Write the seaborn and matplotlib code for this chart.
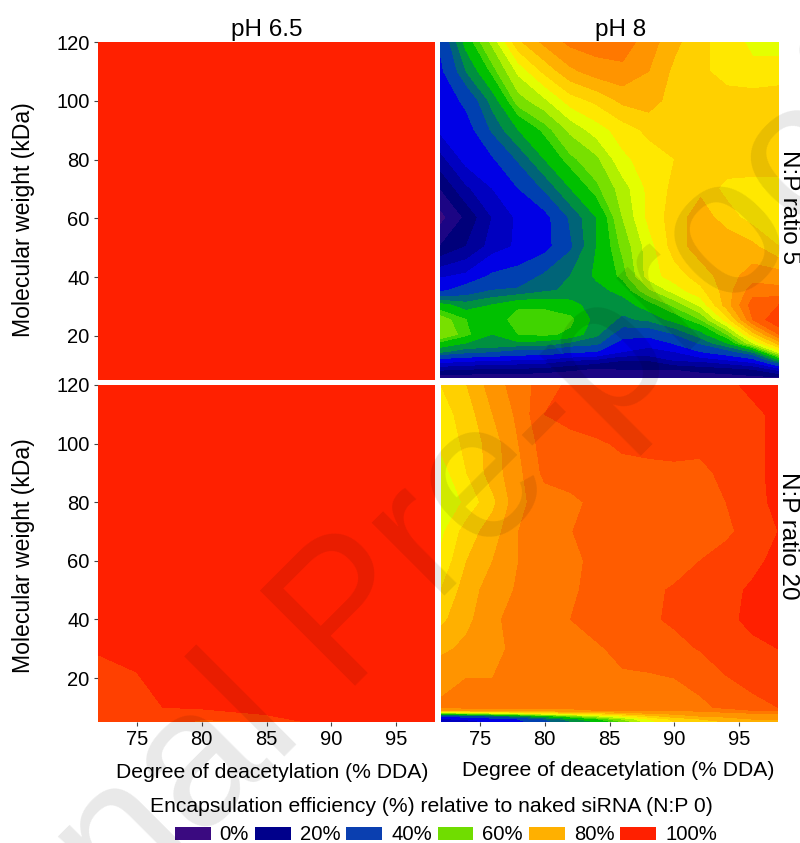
import numpy as np
import seaborn as sns
import matplotlib.pyplot as plt
from matplotlib.patches import Patch

# Contour bands, levels in % encapsulation
LEVELS = [0, 5, 10, 15, 20, 25, 32, 40, 45, 50, 55, 58, 62, 66, 70, 74, 78, 82, 86, 90, 94, 98, 105]
BAND_COLORS = ["#3a0a80", "#1c0584", "#00007a", "#00009a", "#0000c0", "#0000e6", "#0040b0",
               "#006478", "#009040", "#00c000", "#40d400", "#78e000", "#b0f000", "#e4ff00",
               "#ffe800", "#ffd000", "#ffb000", "#ff9400", "#ff7800", "#ff5c00", "#ff4000", "#ff2000"]

LEGEND_LABELS = ["0%", "20%", "40%", "60%", "80%", "100%"]
LEGEND_COLORS = ["#3a0a80", "#00008b", "#0a3fb0", "#70dd00", "#ffb000", "#ff2000"]

DDA = [72, 74, 76, 78, 80, 82, 84, 86, 88, 90, 92, 94, 96, 98]

# pH 8, N:P 5
MW_TR = [120, 110, 100, 90, 80, 70, 60, 50, 40, 35, 30, 25, 20, 17, 14, 11, 8, 5]
EE_TR = [
    [33, 52, 63, 77, 83, 87, 88, 88, 84, 79, 75, 72, 69, 68],
    [30, 45, 56, 67, 75, 81, 84, 85, 82, 77, 75, 72, 71, 72],
    [26, 34, 47, 60, 65, 72, 75, 79, 80, 76, 76, 76, 76, 76],
    [26, 28, 41, 50, 56, 63, 68, 72, 75, 77, 77, 77, 77, 77],
    [18, 27, 31, 41, 50, 57, 61, 69, 72, 74, 77, 77, 77, 77],
    [10, 19, 25, 32, 41, 50, 57, 64, 71, 75, 77, 72.5, 72, 72],
    [3, 11, 20, 26, 29, 41, 50, 62, 71, 76, 80, 76, 72, 71],
    [10, 15, 22, 26, 29, 39, 50, 59, 68, 76, 80, 81, 79, 74],
    [24, 26, 33, 35, 41, 45, 51, 56, 68, 72, 76, 80, 84, 84],
    [30, 36, 40, 41, 44, 46, 48, 52, 61, 68, 73, 80, 88, 87],
    [52, 47, 50, 54, 54, 52, 47, 47, 53, 59, 67, 80, 92, 94],
    [60, 55, 52, 57, 57, 56, 48, 44, 46, 52, 58, 72, 90, 98],
    [62, 56, 50, 55, 56, 54, 46, 36, 35, 40, 48, 58, 76, 90],
    [54, 50, 50, 49, 48, 44, 42, 28, 26, 33, 41, 50, 66, 80],
    [46, 42, 40, 37, 37, 33, 32, 25, 24, 25, 32, 37, 46, 68],
    [28, 26, 25, 24, 23, 20, 18, 15, 15, 20, 21, 24, 28, 48],
    [16, 15, 14, 14, 13, 11, 9, 10, 10, 10, 12, 13, 15, 22],
    [6, 6, 6, 6, 5, 5, 5, 6, 6, 6, 6, 7, 8, 8],
]

# pH 8, N:P 20
MW_BR = [120, 110, 100, 90, 80, 70, 60, 50, 40, 30, 20, 10, 9, 8, 7, 6, 5]
EE_BR = [
    [74, 78, 84, 88, 92, 95, 96, 96, 96, 96, 96, 97, 99, 99],
    [72, 76, 82, 87, 94, 95, 96, 96, 96, 96, 96, 96, 97, 99],
    [71, 75, 80, 86, 92, 93, 93.5, 94.5, 95, 95.5, 95, 96, 97, 99],
    [68, 74, 80, 85, 91, 92, 92.5, 93, 93, 93, 93, 95, 97, 99],
    [66, 71, 77, 85, 88, 89, 91, 92, 92, 92, 92.5, 94, 96.5, 99],
    [69, 76, 80, 86, 87.5, 89.9, 91, 92, 92, 92, 92, 93, 96, 98],
    [71, 78, 82, 86, 88, 89, 91, 92, 92, 92, 94, 96, 97, 99],
    [74, 80, 84, 86.5, 88, 89.5, 91, 92, 93, 94.5, 95.5, 97, 98.5, 99],
    [77, 81, 85, 88, 88.5, 90, 91.5, 92.5, 93.5, 94.5, 95.5, 97.5, 98.5, 99],
    [81, 83, 85, 87, 88, 88.5, 89.5, 91, 92, 93, 94.2, 96, 97.5, 98],
    [85, 86, 86, 87, 87.5, 87.5, 88, 89.5, 89.5, 90, 91.5, 93.8, 95, 97],
    [86.5, 87, 87, 87, 87, 87, 87, 87, 87.5, 88, 89, 91, 93, 94],
    [82, 83, 84, 84, 85, 85, 86, 86, 86, 86, 87, 88, 90, 90],
    [58, 62, 65, 68, 72, 74, 76, 80, 82, 83, 84, 85, 86, 86],
    [32, 36, 40, 46, 52, 58, 65, 70, 76, 80, 82, 83, 84, 84],
    [24, 26, 28, 32, 40, 48, 54, 62, 70, 75, 78, 80, 82, 82],
    [20, 22, 26, 30, 38, 44, 50, 58, 68, 74, 76, 78, 80, 82],
]

# pH 6.5 panels are nearly flat, so a coarse grid is enough
DDA_L = [72, 75, 77, 80, 85, 88, 98]
MW_L = [120, 28, 22, 10, 7.5, 5]
EE_TL = [
    [100, 100, 100, 100, 100, 100, 100],
    [100, 100, 100, 100, 100, 100, 100],
    [100, 100, 100, 100, 100, 100, 100],
    [100, 100, 100, 100, 100, 100, 100],
    [100, 100, 100, 100, 100, 100, 100],
    [100, 100, 100, 100, 100, 100, 100],
]
EE_BL = [
    [100, 100, 100, 100, 100, 100, 100],
    [98, 99, 100, 100, 100, 100, 100],
    [96.5, 98, 99, 100, 100, 100, 100],
    [96, 96.5, 98, 98.5, 99, 100, 100],
    [96, 96, 96, 96, 98, 99, 100],
    [96, 96, 96, 93, 94, 98, 100],
]

sns.set_theme(style="ticks")
plt.rcParams["font.family"] = ["Liberation Sans", "DejaVu Sans"]
palette = sns.color_palette(BAND_COLORS)

W, H = 800, 843
fig = plt.figure(figsize=(W / 100, H / 100), dpi=100, facecolor="white")


def panel(x0, y0, x1, y1):
    return fig.add_axes([x0 / W, 1 - y1 / H, (x1 - x0) / W, (y1 - y0) / H])


def label(x, y, text, **kwargs):
    fig.text(x / W, 1 - y / H, text, ha="center", va="center", color="black", **kwargs)


ax_tl = panel(98, 42, 435, 380)
ax_tr = panel(440, 42, 779, 378)
ax_bl = panel(98, 385, 435, 722)
ax_br = panel(441, 385, 778, 722)

panels = [
    (ax_tl, DDA_L, MW_L, EE_TL),
    (ax_tr, DDA, MW_TR, EE_TR),
    (ax_bl, DDA_L, MW_L, EE_BL),
    (ax_br, DDA, MW_BR, EE_BR),
]
for ax, xs, ys, zs in panels:
    ax.contourf(xs, ys, np.array(zs), levels=LEVELS, colors=palette)
    ax.set_xlim(72, 98)
    ax.set_ylim(5, 120)
    ax.set_xticks([75, 80, 85, 90, 95])
    ax.set_yticks([20, 40, 60, 80, 100, 120])
    ax.tick_params(length=3, width=0.8, color="#444444", labelsize=14.5, labelcolor="black", pad=3)
    sns.despine(ax=ax, left=True, bottom=True)

for ax in [ax_tl, ax_tr]:
    ax.tick_params(bottom=False, labelbottom=False)
for ax in [ax_tr, ax_br]:
    ax.tick_params(left=False, labelleft=False)

label(24, 220, "Molecular weight (kDa)", fontsize=16.6, rotation=90)
label(24, 556, "Molecular weight (kDa)", fontsize=16.6, rotation=90)
label(272, 773, "Degree of deacetylation (% DDA)", fontsize=15.2)
label(618, 771, "Degree of deacetylation (% DDA)", fontsize=15.2)

label(267, 30, "pH 6.5", fontsize=17.5)
label(621, 30, "pH 8", fontsize=17.5)
label(789, 207, "N:P ratio 5", fontsize=17.5, rotation=-90)
label(788, 536, "N:P ratio 20", fontsize=17.5, rotation=-90)

label(431, 806, "Encapsulation efficiency (%) relative to naked siRNA (N:P 0)", fontsize=15.2)

handles = [Patch(facecolor=c, edgecolor="none") for c in LEGEND_COLORS]
fig.legend(handles, LEGEND_LABELS, ncol=6, frameon=False, loc="center",
           bbox_to_anchor=(446 / W, 1 - 835 / H), fontsize=14.6, handlelength=1.75, handleheight=0.6,
           handletextpad=0.45, columnspacing=0.3, borderpad=0, borderaxespad=0, labelcolor="black")

# journal watermark across the whole figure
fig.text(350 / W, 1 - 619 / H, "Journal Pre-proof", fontsize=140, rotation=45, color="black", alpha=0.09,
         ha="center", va="center", rotation_mode="anchor", zorder=20)

fig.savefig("out.png", dpi=100)
